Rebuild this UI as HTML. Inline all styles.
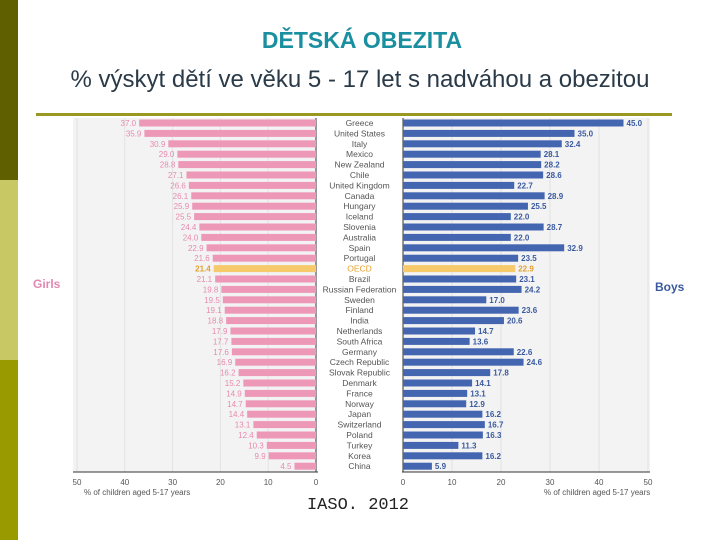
<!DOCTYPE html>
<html><head><meta charset="utf-8"><style>
body{margin:0;width:720px;height:540px;overflow:hidden;background:#fff;font-family:"Liberation Sans",sans-serif;position:relative}
.t{position:absolute;left:0;width:720px;text-align:center}
</style></head><body>
<div style="position:absolute;left:0;top:0;width:18px;height:180px;background:#5f5f00"></div>
<div style="position:absolute;left:0;top:180px;width:18px;height:180px;background:#c8c864"></div>
<div style="position:absolute;left:0;top:360px;width:18px;height:180px;background:#999900"></div>
<div class="t" style="top:27px;font-size:23px;font-weight:bold;color:#1a8fa0;left:2px">DĚTSKÁ OBEZITA</div>
<div class="t" style="top:66px;font-size:24px;color:#2a3a48">% výskyt dětí ve věku 5 - 17 let s nadváhou a obezitou</div>
<svg id="c" width="720" height="540" style="position:absolute;left:0;top:0" xmlns="http://www.w3.org/2000/svg"></svg>
<div class="t" style="top:496px;left:-2px;font-size:17px;font-family:'Liberation Mono',monospace;color:#222">IASO. 2012</div>
<script>
const countries=["Greece","United States","Italy","Mexico","New Zealand","Chile","United Kingdom","Canada","Hungary","Iceland","Slovenia","Australia","Spain","Portugal","OECD","Brazil","Russian Federation","Sweden","Finland","India","Netherlands","South Africa","Germany","Czech Republic","Slovak Republic","Denmark","France","Norway","Japan","Switzerland","Poland","Turkey","Korea","China"];
const girls=[37.0,35.9,30.9,29.0,28.8,27.1,26.6,26.1,25.9,25.5,24.4,24.0,22.9,21.6,21.4,21.1,19.8,19.5,19.1,18.8,17.9,17.7,17.6,16.9,16.2,15.2,14.9,14.7,14.4,13.1,12.4,10.3,9.9,4.5];
const boys=[45.0,35.0,32.4,28.1,28.2,28.6,22.7,28.9,25.5,22.0,28.7,22.0,32.9,23.5,22.9,23.1,24.2,17.0,23.6,20.6,14.7,13.6,22.6,24.6,17.8,14.1,13.1,12.9,16.2,16.7,16.3,11.3,16.2,5.9];
const ticks=[0,10,20,30,40,50];
const svg=document.getElementById('c');const NS="http://www.w3.org/2000/svg";
function mk(t,a,txt){const e=document.createElementNS(NS,t);for(const k in a)e.setAttribute(k,a[k]);if(txt!==undefined)e.textContent=txt;svg.appendChild(e);return e;}
const xL=v=>316-v*4.78, xR=v=>403+v*4.9, yR=i=>123+i*10.4;
let e;
e=mk('rect',{x:73,y:118,width:577,height:354,fill:'#f3f3f3'});

e=mk('rect',{x:316,y:118,width:87,height:354,fill:'#fff'});

ticks.forEach(t=>{if(t>0){mk('line',{x1:xL(t),x2:xL(t),y1:118,y2:472,stroke:'#e2e2e2'});mk('line',{x1:xR(t),x2:xR(t),y1:118,y2:472,stroke:'#e2e2e2'});}
 e=mk('text',{x:xL(t),y:485,'font-size':8,fill:'#555','text-anchor':'middle'},t);
 
 e=mk('text',{x:xR(t),y:485,'font-size':8,fill:'#555','text-anchor':'middle'},t);
 });
mk('line',{x1:73,x2:318,y1:472,y2:472,stroke:'#333'});mk('line',{x1:402,x2:650,y1:472,y2:472,stroke:'#333'});
mk('line',{x1:316,x2:316,y1:118,y2:472,stroke:'#333'});mk('line',{x1:403,x2:403,y1:118,y2:472,stroke:'#333'});
countries.forEach((c,i)=>{const y=yR(i);const o=c==="OECD";
 const gc=o?'#f6c96a':'#ee98b8', bc=o?'#f6c96a':'#4466b0';
 e=mk('rect',{x:xL(girls[i]),y:y-3.5,width:316-xL(girls[i]),height:7,fill:gc});
 
 e=mk('text',{x:xL(girls[i])-3,y:y+3,'font-size':8,fill:o?'#e0a030':'#e88aae','text-anchor':'end','font-weight':o?'bold':'normal'},girls[i].toFixed(1));
 
 e=mk('rect',{x:403,y:y-3.5,width:xR(boys[i])-403,height:7,fill:bc});
 
 e=mk('text',{x:xR(boys[i])+3,y:y+3,'font-size':8,fill:o?'#e0a030':'#3a5aa0','font-weight':'bold'},boys[i].toFixed(1));
 
 e=mk('text',{x:359.5,y:y+3,'font-size':8.5,fill:o?'#e8a030':'#555','text-anchor':'middle'},c);
 });
e=mk('rect',{x:36,y:113,width:636,height:3,fill:'#999922'});

e=mk('text',{x:33,y:288,'font-size':12,'font-weight':'bold',fill:'#e088b0'},'Girls');

e=mk('text',{x:655,y:291,'font-size':12,'font-weight':'bold',fill:'#3a5aa0'},'Boys');

e=mk('text',{x:84,y:495,'font-size':8,fill:'#555'},'% of children aged 5-17 years');

e=mk('text',{x:544,y:495,'font-size':8,fill:'#555'},'% of children aged 5-17 years');

</script>
</body></html>
